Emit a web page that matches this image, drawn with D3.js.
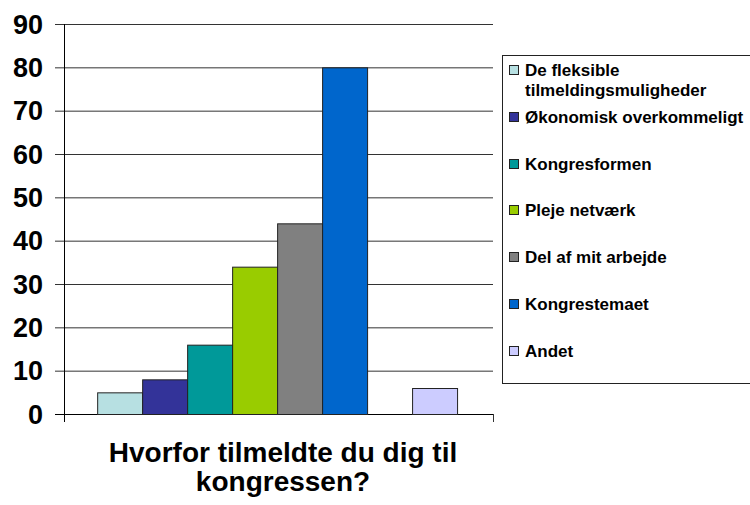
<!DOCTYPE html>
<html>
<head>
<meta charset="utf-8">
<script src="https://cdn.jsdelivr.net/npm/d3@7"></script>
<style>
  body { margin: 0; background: #fff; }
  text { font-family: "Liberation Sans", Arial, sans-serif; font-weight: bold; fill: #000; }
</style>
</head>
<body>
<svg width="750" height="505"></svg>
<script>
// data
var category = "Hvorfor tilmeldte du dig til kongressen?";
var titleLines = ["Hvorfor tilmeldte du dig til", "kongressen?"];
var seriesNames = ["De fleksible tilmeldingsmuligheder", "Økonomisk overkommeligt", "Kongresformen",
                   "Pleje netværk", "Del af mit arbejde", "Kongrestemaet", "", "Andet"];
var seriesValues = [5, 8, 16, 34, 44, 80, null, 6];
var seriesColors = ["#b7e0e2", "#333399", "#009999", "#99cc00", "#808080", "#0066cc", "none", "#ccccff"];
var legendLines = [["De fleksible", "tilmeldingsmuligheder"], ["Økonomisk overkommeligt"], ["Kongresformen"],
                   ["Pleje netværk"], ["Del af mit arbejde"], ["Kongrestemaet"], null, ["Andet"]];
var yTicks = [0, 10, 20, 30, 40, 50, 60, 70, 80, 90];

var svg = d3.select("svg"),
    margin = {top: 24, left: 64, right: 257, bottom: 91},
    width = 750 - margin.left - margin.right,
    height = 505 - margin.top - margin.bottom,
    g = svg.append("g").attr("transform", "translate(" + margin.left + "," + margin.top + ")");

var x0 = d3.scaleBand().domain([category]).range([0, width]).paddingInner(0).paddingOuter(0.096).align(0.48);
var x1 = d3.scaleBand().domain(d3.range(seriesNames.length)).range([0, x0.bandwidth()]);
var y = d3.scaleLinear().domain([0, 90]).range([height, 0]);

// gridlines
g.append("g").selectAll("line").data(yTicks).enter().append("line")
  .attr("x1", -9).attr("x2", width)
  .attr("y1", function(d) { return y(d) + 0.5; })
  .attr("y2", function(d) { return y(d) + 0.5; })
  .attr("stroke", function(d) { return d === 0 ? "#000" : "#333"; })
  .attr("stroke-width", 1);

// y tick labels
g.append("g").selectAll("text").data(yTicks).enter().append("text")
  .attr("x", -21).attr("y", function(d) { return y(d); })
  .attr("dy", "0.36em")
  .attr("text-anchor", "end")
  .style("font-size", "27px")
  .text(function(d) { return d; });

// axis lines
g.append("line").attr("x1", 0.5).attr("x2", 0.5).attr("y1", 0).attr("y2", height + 8).attr("stroke", "#000");
g.append("line").attr("x1", width + 0.5).attr("x2", width + 0.5).attr("y1", height).attr("y2", height + 8).attr("stroke", "#333");

// bars
var bars = g.append("g").attr("transform", "translate(" + x0(category) + ",0)");
bars.selectAll("rect").data(seriesValues.map(function(v, i) { return {i: i, v: v}; }).filter(function(d) { return d.v != null; }))
  .enter().append("rect")
  .attr("x", function(d) { return x1(d.i) + 0.5; })
  .attr("y", function(d) { return y(d.v) + 0.5; })
  .attr("width", x1.bandwidth())
  .attr("height", function(d) { return height - y(d.v); })
  .attr("fill", function(d) { return seriesColors[d.i]; })
  .attr("stroke", "#222")
  .attr("stroke-width", 1);

// title
svg.append("g").selectAll("text").data(titleLines).enter().append("text")
  .attr("x", 283)
  .attr("y", function(d, i) { return 462 + i * 29; })
  .attr("text-anchor", "middle")
  .style("font-size", "28px")
  .text(function(d) { return d; });

// legend
var legend = svg.append("g");
legend.append("rect").attr("x", 502.5).attr("y", 55.5).attr("width", 260).attr("height", 328)
  .attr("fill", "#fff").attr("stroke", "#222");

var legendY = [70, 117, 164, 210, 257, 304, null, 351];
var item = legend.selectAll(".item")
  .data(legendLines.map(function(l, i) { return {lines: l, i: i}; }).filter(function(d) { return d.lines; }))
  .enter().append("g").attr("class", "item")
  .attr("transform", function(d) { return "translate(509," + legendY[d.i] + ")"; });
item.append("rect").attr("x", 0.5).attr("y", -4.5).attr("width", 9).attr("height", 9)
  .attr("fill", function(d) { return seriesColors[d.i]; })
  .attr("stroke", "#222");
item.selectAll("text").data(function(d) { return d.lines; }).enter().append("text")
  .attr("x", 16)
  .attr("y", function(d, i) { return i * 20; })
  .attr("dy", "0.36em")
  .style("font-size", "17px")
  .text(function(d) { return d; });
</script>
</body>
</html>
